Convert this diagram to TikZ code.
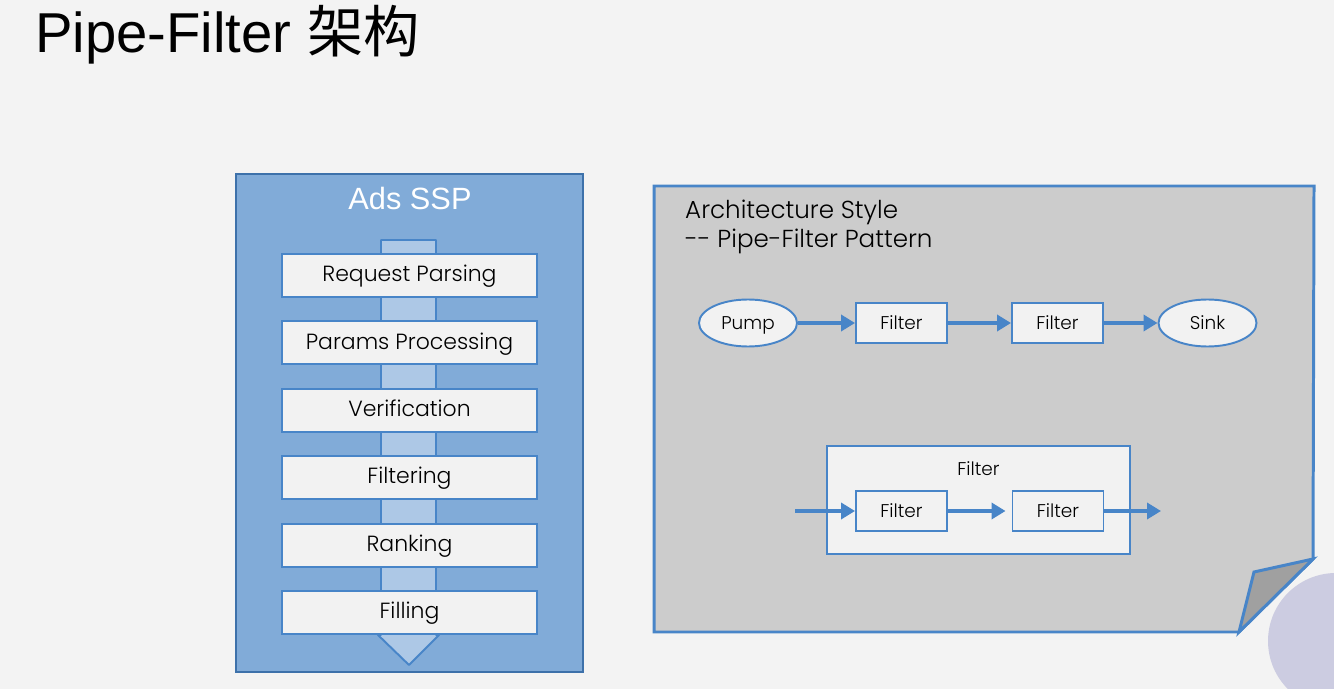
\documentclass[tikz,border=0pt]{standalone}
\usepackage{fontspec}
\setmainfont{Poppins}[UprightFont=* Light]
\newfontfamily\headfont{Liberation Sans}
\newfontfamily\cjkfont{Noto Sans CJK SC}
\usepackage{xcolor}
\usepackage{tikz}
\usetikzlibrary{arrows.meta}
\usetikzlibrary{shapes.geometric}
\definecolor{slidebg}{rgb}{0.953,0.953,0.953}
\definecolor{edgeblue}{rgb}{0.282,0.522,0.784}
\definecolor{panelblue}{rgb}{0.506,0.671,0.847}
\definecolor{pipeblue}{rgb}{0.678,0.784,0.902}
\definecolor{boxwhite}{rgb}{0.949,0.949,0.949}
\definecolor{sheetgrey}{rgb}{0.800,0.800,0.800}
\definecolor{foldgrey}{rgb}{0.627,0.627,0.627}
\definecolor{lavender}{rgb}{0.800,0.800,0.882}
\tikzset{%
  stage/.style={rectangle, draw=edgeblue, fill=boxwhite, line width=1.1pt, minimum width=5.1cm, minimum height=0.86cm, font=\fontsize{12.5}{14}\selectfont, text height=0.95em, text depth=0.25em},
  filterbox/.style={rectangle, draw=edgeblue, fill=boxwhite, line width=1.1pt, minimum width=1.82cm, minimum height=0.8cm, font=\fontsize{10.5}{12}\selectfont, text height=0.95em, text depth=0.25em},
  endpoint/.style={ellipse, draw=edgeblue, fill=boxwhite, line width=1.1pt, inner sep=0pt, minimum width=1.96cm, minimum height=0.94cm, font=\fontsize{10.5}{12}\selectfont, text height=0.95em, text depth=0.25em},
  groupbox/.style={rectangle, draw=edgeblue, fill=boxwhite, line width=1.1pt, minimum width=6.06cm, minimum height=2.16cm},
  pipe/.style={-{Triangle[length=0.28cm,width=0.32cm]}, draw=edgeblue, line width=2pt}
}
\begin{document}
\begin{tikzpicture}[node distance=1.348cm]
        \useasboundingbox (0,0) rectangle (26.68,-13.78);
        \fill [slidebg] (0,0) rectangle (26.68,-13.78);
        \begin{scope}
          \clip (0,0) rectangle (26.68,-13.78);
          \fill [lavender] (26.72,-12.82) circle (1.36cm);
        \end{scope}

        \node [anchor=base west, font=\headfont\fontsize{32}{36}\selectfont] (title) at (0.58,-1.06) {Pipe-Filter {\cjkfont 架构}};

        % left: the ads pipeline
        \draw [draw=edgeblue!85!black, fill=panelblue, line width=0.8pt] (4.72,-3.48) rectangle (11.66,-13.44);
        \node [text=white, font=\headfont\fontsize{17.5}{20}\selectfont] (ads) at (8.2,-3.98) {Ads SSP};
        \draw [draw=edgeblue, fill=pipeblue, line width=1.1pt, line join=round]
              (7.62,-4.8) -- (8.72,-4.8) -- (8.72,-12.7) -- (8.78,-12.7) -- (8.18,-13.3)
              -- (7.56,-12.7) -- (7.62,-12.7) -- cycle;
        \node [stage] at (8.19,-5.51)  (req) {Request Parsing};
        \node [stage, below of=req]    (par) {Params Processing};
        \node [stage, below of=par]    (ver) {Verification};
        \node [stage, below of=ver]    (flt) {Filtering};
        \node [stage, below of=flt]    (rnk) {Ranking};
        \node [stage, below of=rnk]    (fil) {Filling};

        % right: the style sheet with its folded corner
        \draw [draw=edgeblue, fill=sheetgrey, line width=1.7pt, line join=miter]
              (13.08,-3.72) -- (26.28,-3.72) -- (26.26,-11.18) -- (24.78,-12.64) -- (13.08,-12.64) -- cycle;
        \draw [draw=edgeblue, fill=foldgrey, line width=1.7pt, line join=miter]
              (26.26,-11.18) -- (25.08,-11.44) -- (24.78,-12.64) -- cycle;
        \node [anchor=north west, align=left, font=\fontsize{14}{16.5}\selectfont] (style) at (13.58,-3.88)
              {Architecture Style\\-{}- Pipe-Filter Pattern};

        \node [endpoint] at (14.96,-6.46)                      (pmp) {Pump};
        \node [filterbox, right of=pmp, node distance=3.07cm]   (fa)  {Filter};
        \node [filterbox, right of=fa, node distance=3.12cm]    (fb)  {Filter};
        \node [endpoint, right of=fb, node distance=3.0cm]      (snk) {Sink};

        \node [groupbox] at (19.57,-10.0)                      (grp) {};
        \node [anchor=north, yshift=-0.2cm, font=\fontsize{10.5}{12}\selectfont] at (grp.north) (grpname) {Filter};
        \node [filterbox] at (18.03,-10.22)                    (fc)  {Filter};
        \node [filterbox, right of=fc, node distance=3.13cm]    (fd)  {Filter};
        \coordinate (in)  at (15.9,-10.22);
        \coordinate (out) at (23.22,-10.22);

        \draw [pipe] (pmp) -- (fa);
        \draw [pipe] (fa) -- (fb);
        \draw [pipe] (fb) -- (snk);
        \draw [pipe] (in) -- (fc.west);
        \draw [pipe, shorten >=0.12cm] (fc.east) -- (fd.west);
        \draw [pipe] (fd.east) -- (out);
    \end{tikzpicture}
\end{document}
